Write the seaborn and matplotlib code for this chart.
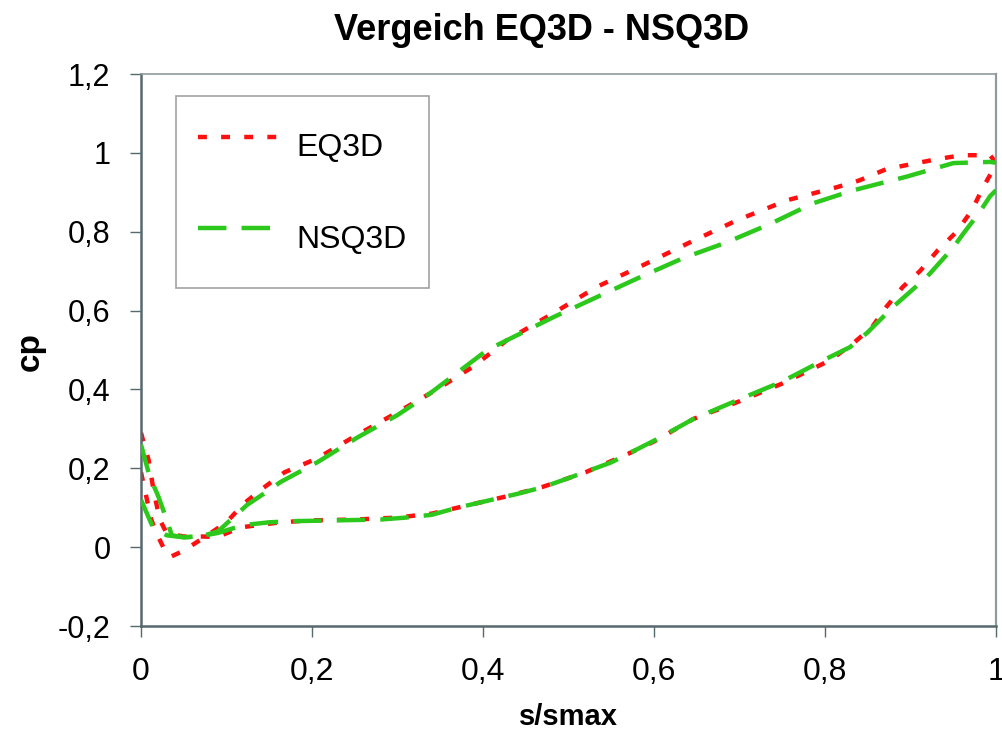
import numpy as np
import pandas as pd
import matplotlib
matplotlib.use("Agg")
import matplotlib.pyplot as plt
from matplotlib.lines import Line2D
from matplotlib.ticker import FixedLocator, FuncFormatter
import seaborn as sns

# EQ3D – branch running over the high-cp curve
eq3d_upper_s = [0.0, 0.007, 0.012, 0.018, 0.026, 0.034, 0.049, 0.072, 0.10, 0.12, 0.143,
                0.168, 0.206, 0.253, 0.30, 0.346, 0.39, 0.428, 0.482, 0.533, 0.587,
                0.642, 0.697, 0.756, 0.814, 0.84, 0.872, 0.931, 0.96, 0.993, 1.0]
eq3d_upper_cp = [0.19, 0.12, 0.07, 0.036, 0.0, -0.025, -0.01, 0.022, 0.063, 0.11, 0.15,
                 0.19, 0.225, 0.285, 0.342, 0.40, 0.46, 0.525, 0.593, 0.66, 0.715,
                 0.773, 0.829, 0.88, 0.913, 0.93, 0.959, 0.984, 0.994, 0.994, 0.975]

# EQ3D – branch running over the low-cp curve
eq3d_lower_s = [0.0, 0.009, 0.015, 0.022, 0.03, 0.05, 0.07, 0.09, 0.116, 0.163, 0.20,
                0.25, 0.30, 0.34, 0.38, 0.43, 0.47, 0.52, 0.57, 0.60, 0.646, 0.70,
                0.75, 0.806, 0.833, 0.855, 0.872, 0.891, 0.911, 0.932, 0.954, 0.972,
                0.985, 1.0]
eq3d_lower_cp = [0.29, 0.22, 0.14, 0.07, 0.035, 0.027, 0.027, 0.026, 0.05, 0.063, 0.068,
                 0.07, 0.075, 0.085, 0.105, 0.13, 0.153, 0.19, 0.237, 0.268, 0.325, 0.37,
                 0.415, 0.474, 0.517, 0.558, 0.61, 0.66, 0.70, 0.753, 0.80, 0.855,
                 0.913, 0.97]

# NSQ3D – branch running over the high-cp curve
nsq3d_upper_s = [0.0, 0.01, 0.02, 0.03, 0.036, 0.05, 0.07, 0.09, 0.124, 0.15, 0.163,
                 0.206, 0.253, 0.30, 0.338, 0.405, 0.482, 0.533, 0.584, 0.634, 0.685,
                 0.736, 0.786, 0.833, 0.896, 0.95, 0.993, 1.0]
nsq3d_upper_cp = [0.26, 0.18, 0.13, 0.07, 0.03, 0.025, 0.027, 0.04, 0.107, 0.145, 0.165,
                  0.215, 0.278, 0.335, 0.39, 0.50, 0.583, 0.634, 0.685, 0.733, 0.773,
                  0.82, 0.872, 0.905, 0.94, 0.974, 0.977, 0.975]

# NSQ3D – branch running over the low-cp curve
nsq3d_lower_s = [0.0, 0.014, 0.03, 0.05, 0.07, 0.09, 0.12, 0.15, 0.18, 0.23, 0.28,
                 0.31, 0.34, 0.37, 0.39, 0.44, 0.47, 0.50, 0.55, 0.60, 0.646, 0.70,
                 0.75, 0.798, 0.829, 0.849, 0.88, 0.919, 0.95, 0.962, 0.98, 0.993, 1.0]
nsq3d_lower_cp = [0.12, 0.05, 0.03, 0.025, 0.028, 0.036, 0.056, 0.063, 0.066, 0.068, 0.07,
                  0.075, 0.082, 0.10, 0.11, 0.135, 0.152, 0.175, 0.215, 0.27, 0.325, 0.375,
                  0.42, 0.474, 0.507, 0.543, 0.61, 0.685, 0.76, 0.796, 0.847, 0.89, 0.905]

series_names = ["EQ3D", "NSQ3D"]
x_ticks = [0.0, 0.2, 0.4, 0.6, 0.8, 1.0]
y_ticks = [-0.2, 0.0, 0.2, 0.4, 0.6, 0.8, 1.0, 1.2]

frames = []
for name, branch, s, cp in [
    ("EQ3D", "EQ3D-o", eq3d_upper_s, eq3d_upper_cp),
    ("EQ3D", "EQ3D-u", eq3d_lower_s, eq3d_lower_cp),
    ("NSQ3D", "NSQ3D-o", nsq3d_upper_s, nsq3d_upper_cp),
    ("NSQ3D", "NSQ3D-u", nsq3d_lower_s, nsq3d_lower_cp),
]:
    frames.append(pd.DataFrame({"s/smax": s, "cp": cp, "Modell": name, "Zweig": branch}))
df = pd.concat(frames, ignore_index=True)

sns.set_style("white")
plt.rcParams["font.family"] = ["Liberation Sans", "DejaVu Sans"]
plt.rcParams["text.color"] = "black"
plt.rcParams["xtick.color"] = "black"
plt.rcParams["ytick.color"] = "black"
plt.rcParams["axes.labelcolor"] = "black"

colors = {"EQ3D": "#ff1010", "NSQ3D": "#2cc81c"}
lw = 3.2
dash_styles = {"EQ3D": (2.0, 3.2), "NSQ3D": (6.4, 3.4)}

fig = plt.figure(figsize=(10.02, 7.35), dpi=100)
ax = fig.add_axes([141 / 1002, 1 - 626 / 735, (996 - 141) / 1002, (626 - 74) / 735])

for name in series_names:
    sub = df[df["Modell"] == name]
    sns.lineplot(data=sub, x="s/smax", y="cp", units="Zweig", estimator=None,
                 sort=False, color=colors[name], linewidth=lw,
                 dashes=False, legend=False, ax=ax)

# dash patterns per model (red below, green on top)
for line in ax.get_lines():
    c = matplotlib.colors.to_hex(line.get_color())
    for name in series_names:
        if c == matplotlib.colors.to_hex(colors[name]):
            line.set_dashes(dash_styles[name])
            line.set_dash_capstyle("butt")
            line.set_zorder(2 if name == "EQ3D" else 3)

ax.set_xlim(0, 1)
ax.set_ylim(-0.2, 1.2)
ax.xaxis.set_major_locator(FixedLocator(x_ticks))
ax.yaxis.set_major_locator(FixedLocator(y_ticks))


def de_fmt(v, pos=None):
    txt = f"{v:.1f}".rstrip("0").rstrip(".")
    if txt in ("-0", ""):
        txt = "0"
    return txt.replace(".", ",")


ax.xaxis.set_major_formatter(FuncFormatter(de_fmt))
ax.yaxis.set_major_formatter(FuncFormatter(de_fmt))

spine_dark = "#56696d"
spine_light = "#8f9b9d"
ax.spines["left"].set_color(spine_dark)
ax.spines["bottom"].set_color(spine_dark)
ax.spines["left"].set_linewidth(1.8)
ax.spines["bottom"].set_linewidth(1.8)
ax.spines["top"].set_color(spine_light)
ax.spines["right"].set_color(spine_light)
ax.spines["top"].set_linewidth(1.2)
ax.spines["right"].set_linewidth(1.6)

ax.tick_params(axis="both", direction="out", length=8, width=1.0, color=spine_dark,
               labelcolor="black", bottom=True, left=True)
ax.tick_params(axis="y", labelsize=22, pad=14)
ax.tick_params(axis="x", labelsize=23, pad=14)

ax.set_xlabel("s/smax", fontsize=21, fontweight="bold")
ax.xaxis.set_label_coords(0.5, (626 - 717) / 552)
ax.xaxis.label.set_va("center")
ax.set_ylabel("cp", fontsize=24, fontweight="bold")
ax.yaxis.set_label_coords((30 - 141) / 855, (626 - 352) / 552)
ax.yaxis.label.set_va("center")
fig.text(542 / 1002, 1 - 30 / 735, "Vergeich EQ3D - NSQ3D", fontsize=26,
         fontweight="bold", ha="center", va="center")

handles = [Line2D([], [], color=colors[n], linewidth=lw, dashes=dash_styles[n],
                  dash_capstyle="butt") for n in series_names]
leg = ax.legend(handles, series_names, loc="upper left",
                bbox_to_anchor=((176 - 141) / 855, (626 - 96) / 552),
                borderaxespad=0, frameon=True, fancybox=False, fontsize=23,
                handlelength=2.65, handleheight=2.4, handletextpad=0.45,
                labelspacing=1.05, borderpad=0.68)
leg.get_frame().set_edgecolor("#8a8a8a")
leg.get_frame().set_linewidth(1.2)

fig.savefig("out.png", dpi=100)
